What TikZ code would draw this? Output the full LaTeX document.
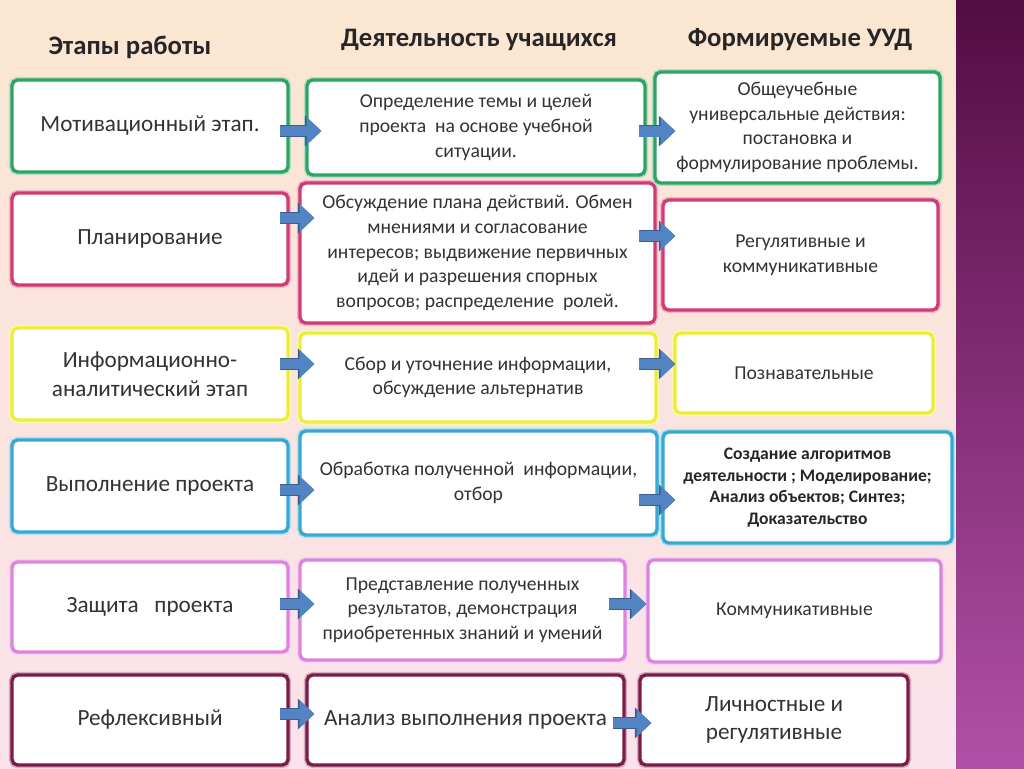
\documentclass[tikz,border=0pt]{standalone}
\usepackage{fontspec}
\setmainfont{Carlito}
\usetikzlibrary{arrows.meta}
\definecolor{Green}{HTML}{2FA363}
\definecolor{Crimson}{HTML}{D23A73}
\definecolor{Yellow}{HTML}{F0EC3A}
\definecolor{Cyan}{HTML}{35A9D2}
\definecolor{Orchid}{HTML}{DE83DE}
\definecolor{Maroon}{HTML}{7E1A48}
\definecolor{ArrowBlue}{HTML}{5283C2}
\definecolor{ArrowEdge}{HTML}{3A5F8F}
\definecolor{Ink}{HTML}{333333}
\definecolor{PeachTop}{HTML}{FBE6D1}
\definecolor{PinkBottom}{HTML}{FBE2EC}
\definecolor{PlumTop}{HTML}{520D42}
\definecolor{PlumBottom}{HTML}{B24FA8}

\begin{document}
\begin{tikzpicture}[
    x=0.25mm,y=-0.25mm,
    box/.style={draw=#1,line width=2.4pt,rounded corners=4pt,fill=white,
      align=center,text=Ink,inner sep=2pt,
      preaction={draw=#1!35,line width=4.6pt}},
    stage/.style={font=\fontsize{16.5}{20.5}\selectfont,minimum width=69mm},
    act/.style={font=\fontsize{14}{17.5}\selectfont},
    head/.style={font=\fontsize{19}{22}\selectfont\bfseries,text=black!85},
    barr/.style={-{Triangle[length=3.7mm,width=6.8mm]},line width=2.7mm,ArrowBlue,
      shorten <=-2.5mm,shorten >=-4mm,
      preaction={draw=ArrowEdge,line width=3.1mm,-{Triangle[length=4.1mm,width=7.4mm]}}}
  ]
    % background and side band
    \useasboundingbox (0,0) rectangle (1024,768);
    \fill[top color=PeachTop,bottom color=PinkBottom] (0,0) rectangle (956,768);
    \fill[top color=PlumTop,bottom color=PlumBottom] (956,0) rectangle (1024,768);

    % column heads
    \node[head] (h1) at (130,47) {Этапы работы};
    \node[head] (h2) at (479,40) {Деятельность учащихся};
    \node[head] (h3) at (800,40) {Формируемые УУД};

    % stages
    \node[box=Green,stage,minimum height=23mm] (a1) at (150,126) {Мотивационный этап.};
    \node[box=Crimson,stage,minimum height=23mm] (a2) at (150,239) {Планирование};
    \node[box=Yellow,stage,minimum height=23mm] (a3) at (150,374) {Информационно-\\аналитический этап};
    \node[box=Cyan,stage,minimum height=23mm] (a4) at (150,486) {Выполнение проекта};
    \node[box=Orchid,stage,minimum height=22.5mm] (a5) at (150,607) {Защита\ \ \ проекта};
    \node[box=Maroon,stage,minimum height=22.5mm] (a6) at (150,720) {Рефлексивный};

    % pupils' work
    \node[box=Green,act,minimum width=84.5mm,minimum height=23.75mm] (b1) at (476,127.5)
      {Определение темы и целей\\проекта\ \ на основе учебной\\ситуации.};
    \node[box=Crimson,act,minimum width=88.75mm,minimum height=35mm] (b2) at (477.5,253)
      {Обсуждение плана действий. Обмен\\мнениями и согласование\\интересов; выдвижение первичных\\идей и разрешения спорных\\вопросов; распределение\ \ ролей.};
    \node[box=Yellow,act,minimum width=89mm,minimum height=22.25mm] (b3) at (478,377.5)
      {Сбор и уточнение информации,\\обсуждение альтернатив};
    \node[box=Cyan,act,minimum width=89.25mm,minimum height=26mm] (b4) at (478.5,483)
      {Обработка полученной\ \ информации,\\отбор};
    \node[box=Orchid,act,minimum width=81.25mm,minimum height=25mm] (b5) at (462.5,610)
      {Представление полученных\\результатов, демонстрация\\приобретенных знаний и умений};
    \node[box=Maroon,stage,minimum width=79.25mm,minimum height=22.5mm] (b6) at (465.5,720)
      {Анализ выполнения проекта};

    % learning actions
    \node[box=Green,act,minimum width=71.25mm,minimum height=27.75mm] (c1) at (797.5,127.5)
      {Общеучебные\\универсальные действия:\\постановка и\\формулирование проблемы.};
    \node[box=Crimson,act,minimum width=68.75mm,minimum height=27.5mm] (c2) at (800.5,255)
      {Регулятивные и\\коммуникативные};
    \node[box=Yellow,act,minimum width=64.5mm,minimum height=20mm] (c3) at (804,373)
      {Познавательные};
    \node[box=Cyan,minimum width=72.25mm,minimum height=27.75mm,
      font=\fontsize{12.5}{15.5}\selectfont\bfseries,text=black!85] (c4) at (807.5,487.5)
      {Создание алгоритмов\\деятельности ; Моделирование;\\Анализ объектов; Синтез;\\Доказательство};
    \node[box=Orchid,act,minimum width=73.25mm,minimum height=25.5mm] (c5) at (794.5,611)
      {Коммуникативные};
    \node[box=Maroon,stage,minimum width=67mm,minimum height=22.5mm] (c6) at (774,720)
      {Личностные и\\регулятивные};

    % arrows
    \draw[barr] ([yshift=-1.25mm]a1.east) -- ([yshift=-1.25mm]a1.east -| b1.west);
    \draw[barr,shorten <=-2mm,shorten >=-5.5mm] ([yshift=-0.9mm]b1.east) -- ([yshift=-0.9mm]b1.east -| c1.west);
    \draw[barr] ([yshift=5.25mm]a2.east) -- ([yshift=5.25mm]a2.east -| b2.west);
    \draw[barr,shorten <=-4.5mm,shorten >=-3.5mm] ([yshift=4.25mm]b2.east) -- ([yshift=4.25mm]b2.east -| c2.west);
    \draw[barr] ([yshift=2.5mm]a3.east) -- ([yshift=2.5mm]a3.east -| b3.west);
    \draw[barr,shorten <=-4.75mm,shorten >=-0.5mm] ([yshift=3.4mm]b3.east) -- ([yshift=3.4mm]b3.east -| c3.west);
    \draw[barr] ([yshift=-1mm]a4.east) -- ([yshift=-1mm]a4.east -| b4.west);
    \draw[barr,shorten <=-5mm,shorten >=-3.5mm] ([yshift=-4.25mm]b4.east) -- ([yshift=-4.25mm]b4.east -| c4.west);
    \draw[barr] ([yshift=0.75mm]a5.east) -- ([yshift=0.75mm]a5.east -| b5.west);
    \draw[barr,shorten <=-4.5mm,shorten >=0mm] ([yshift=1.5mm]b5.east) -- ([yshift=1.5mm]b5.east -| c5.west);
    \draw[barr,shorten >=-2.25mm] ([yshift=1.5mm]a6.east) -- ([yshift=1.5mm]a6.east -| b6.west);
    \draw[barr,shorten <=-3.25mm,shorten >=-3.25mm] ([yshift=-0.75mm]b6.east) -- ([yshift=-0.75mm]b6.east -| c6.west);
  \end{tikzpicture}
\end{document}
